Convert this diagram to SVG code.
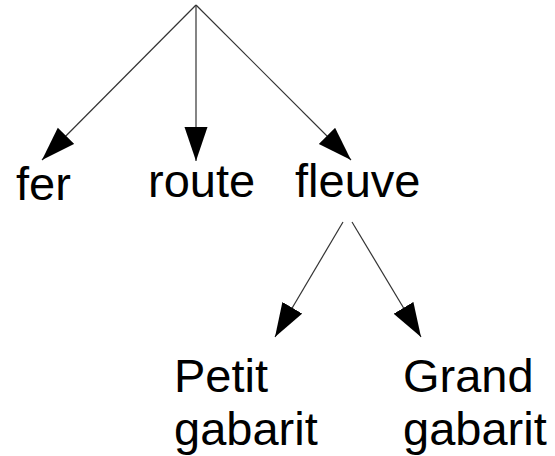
<svg xmlns="http://www.w3.org/2000/svg" width="555" height="456" viewBox="0 0 555 456">
<style>
.lbl{font-family:"Liberation Sans",Arial,sans-serif;font-size:47px;fill:#000}
.edge{stroke:#333;stroke-width:1.2;fill:none;marker-end:url(#ah)}
</style>
<defs>
<marker id="ah" markerUnits="userSpaceOnUse" markerWidth="35" markerHeight="24" viewBox="0 0 35 24" refX="34" refY="11.5" orient="auto">
<path d="M0,0 L34,11.5 L0,23 z" fill="#000"/>
</marker>
</defs>
<rect width="555" height="456" fill="#fff"/>
<g id="connectors">
<line class="edge" x1="196" y1="5" x2="42" y2="160"/>
<line class="edge" x1="196" y1="5" x2="196" y2="161"/>
<line class="edge" x1="196" y1="5" x2="351" y2="160"/>
<line class="edge" x1="343" y1="222" x2="275" y2="337"/>
<line class="edge" x1="352" y1="222" x2="421" y2="337"/>
</g>
<g id="fer"><text class="lbl" x="16" y="200">fer</text></g>
<g id="route"><text class="lbl" x="148" y="197">route</text></g>
<g id="fleuve"><text class="lbl" x="295" y="197">fleuve</text></g>
<g id="petit"><text class="lbl" x="174" y="392">Petit</text><text class="lbl" x="174" y="445">gabarit</text></g>
<g id="grand"><text class="lbl" x="403" y="392">Grand</text><text class="lbl" x="403" y="445">gabarit</text></g>
</svg>
